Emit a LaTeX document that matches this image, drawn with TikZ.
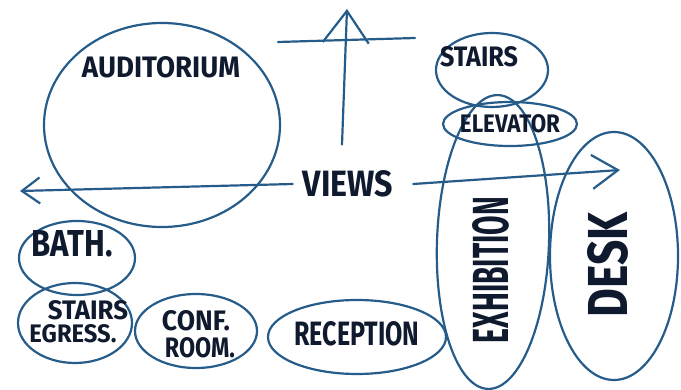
\documentclass[tikz,border=0pt]{standalone}
\usepackage{fontspec}
\setmainfont{Fira Sans}
\usepackage{graphicx}
\usetikzlibrary{shapes.geometric,arrows.meta}
\definecolor{ink}{RGB}{38,92,138}
\definecolor{marker}{RGB}{16,26,46}
% hand lettering squeezed into a given width and cap height
\newcommand{\lettering}[3]{\resizebox{#1pt}{#2pt}{\bfseries #3}}
\begin{document}
\begin{tikzpicture}[x=1pt,y=-1pt,
  room/.style={draw=ink, line width=2.2pt, ellipse, inner sep=0pt},
  tag/.style={text=marker, inner sep=0pt},
  viewarrow/.style={draw=ink, line width=2.2pt, line cap=round},
]
\useasboundingbox (0,0) rectangle (681,390);

% rooms
\node[room, minimum width=236pt, minimum height=204pt] (aud) at (162,125) {};
\node[tag] (audtxt) at (161,67) {\lettering{158}{21}{AUDITORIUM}};

\node[room, minimum width=112pt, minimum height=74pt] (stairs) at (492,70) {};
\node[tag] (stairstxt) at (479,57) {\lettering{78}{20}{STAIRS}};

\node[room, minimum width=112pt, minimum height=294pt, rotate=-2] (exhib) at (493,242) {};
\node[tag, rotate=90] (exhibtxt) at (491,270) {\lettering{146}{36}{EXHIBITION}};

\node[room, minimum width=134pt, minimum height=44pt] (elev) at (510,124) {};
\node[tag] (elevtxt) at (510,124) {\lettering{100}{18}{ELEVATOR}};

\node[room, minimum width=128pt, minimum height=248pt] (desk) at (614,256) {};
\node[tag, rotate=90] (desktxt) at (608,265) {\lettering{105}{40}{DESK}};

\node[room, minimum width=116pt, minimum height=74pt] (bath) at (77,258) {};
\node[tag] (bathtxt) at (72,244) {\lettering{81}{26}{BATH.}};

\node[room, minimum width=114pt, minimum height=80pt] (egress) at (75,323) {};
\node[tag] (egresstxt1) at (88,310) {\lettering{80}{19}{STAIRS}};
\node[tag] (egresstxt2) at (73,334) {\lettering{87}{18}{EGRESS.}};

\node[room, minimum width=122pt, minimum height=74pt] (conf) at (196,331) {};
\node[tag] (conftxt1) at (196,321) {\lettering{68}{20}{CONF.}};
\node[tag] (conftxt2) at (200,348) {\lettering{70}{20}{ROOM.}};

\node[room, minimum width=178pt, minimum height=74pt] (recep) at (357,337) {};
\node[tag] (receptxt) at (357,334) {\lettering{125}{24}{RECEPTION}};

% views
\node[tag] (views) at (348,184) {\lettering{90}{26}{VIEWS}};
\coordinate (upview) at (347,9);
\coordinate (leftview) at (20,191);
\coordinate (rightview) at (620,170);
\coordinate (baseL) at (278,42);
\coordinate (baseR) at (415,38);

\draw[viewarrow] (baseL) -- (baseR);
\draw[viewarrow, -{Straight Barb[length=32pt,width=46pt]}]
  ([xshift=-6pt,yshift=26pt]views.north) -- (upview);
\draw[viewarrow, -{Straight Barb[length=18pt,width=26pt]}]
  ([xshift=-10pt]views.west) -- (leftview);
\draw[viewarrow, -{Straight Barb[length=26pt,width=34pt]}]
  ([xshift=20pt]views.east) -- (rightview);
\end{tikzpicture}
\end{document}
